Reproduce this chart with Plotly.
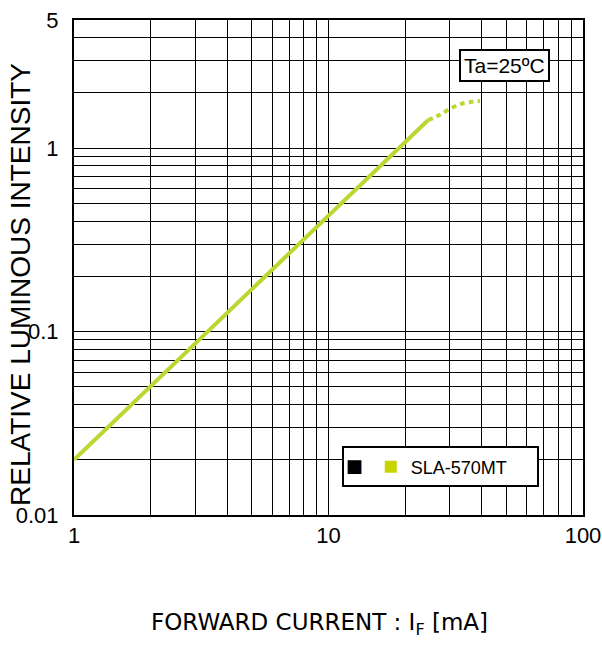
import plotly.graph_objects as go

# ---- data ----
current_solid = [1, 2, 5, 10, 20, 24.6]
intensity_solid = [0.02, 0.0503, 0.17, 0.428, 1.075, 1.42]
current_dotted = [24.6, 27.4, 30, 33.5, 39.4]
intensity_dotted = [1.42, 1.52, 1.64, 1.75, 1.81]

x_grid = [1, 2, 3, 4, 5, 6, 7, 8, 9, 10, 20, 30, 40, 50, 60, 70, 80, 90, 100]
x_labels = {1: "1", 10: "10", 100: "100"}
y_grid = [0.01, 0.02, 0.03, 0.04, 0.05, 0.06, 0.07, 0.08, 0.09,
          0.1, 0.2, 0.3, 0.4, 0.5, 0.6, 0.7, 0.8, 0.9,
          1, 2, 3, 4, 5]
y_labels = {0.01: "0.01", 0.1: "0.1", 1: "1", 5: "5"}

series_name = "SLA-570MT"
green = "#bdd631"

fig = go.Figure()
fig.add_trace(go.Scatter(x=current_solid, y=intensity_solid, mode="lines",
                         line=dict(color=green, width=4), showlegend=False))
fig.add_trace(go.Scatter(x=current_dotted, y=intensity_dotted, mode="lines",
                         line=dict(color=green, width=4, dash="5px,4px", shape="spline"),
                         showlegend=False))
# legend entry
fig.add_trace(go.Scatter(x=[None], y=[None], mode="markers", name=series_name,
                         marker=dict(symbol="square", size=12, color="#c8d400")))

axis_common = dict(showgrid=True, gridcolor="black", gridwidth=1,
                   showline=True, linecolor="black", linewidth=2, mirror=True,
                   ticks="", zeroline=False, automargin=False,
                   tickfont=dict(family="Liberation Sans, Arial", size=22, color="black"))

fig.update_xaxes(type="log", range=[0, 2], tickmode="array",
                 tickvals=x_grid, ticktext=[x_labels.get(v, "") for v in x_grid],
                 **axis_common)
fig.update_yaxes(type="log", range=[-2, 0.69897], tickmode="array",
                 tickvals=y_grid, ticktext=[y_labels.get(v, "") for v in y_grid],
                 ticklabelstandoff=9, **axis_common)

fig.add_annotation(text="RELATIVE LUMINOUS INTENSITY", xref="paper", yref="paper",
                   x=-0.105, y=0.466, textangle=-90, showarrow=False,
                   xanchor="center", yanchor="middle",
                   font=dict(family="Liberation Sans, Arial", size=28, color="black"))
fig.add_annotation(text="FORWARD CURRENT : I<sub>F</sub> [mA]", xref="paper", yref="paper",
                   x=0.483, y=-0.22, showarrow=False, xanchor="center", yanchor="middle",
                   font=dict(family="DejaVu Sans", size=23, color="black"))
fig.add_annotation(text="Ta=25ºC", xref="paper", yref="paper",
                   x=0.845, y=0.908, showarrow=False, xanchor="center", yanchor="middle",
                   bgcolor="white", bordercolor="black", borderwidth=2, borderpad=3,
                   font=dict(family="Liberation Sans, Arial", size=21, color="black"))

fig.update_layout(
    width=602, height=652,
    margin=dict(l=74, r=19, t=20, b=137),
    paper_bgcolor="white", plot_bgcolor="white",
    legend=dict(orientation="h", x=0.526, y=0.097, xanchor="left", yanchor="middle",
                bgcolor="white", bordercolor="black", borderwidth=2,
                entrywidth=120, entrywidthmode="pixels",
                title=dict(text="■", side="left",
                           font=dict(family="DejaVu Sans", size=18, color="black")),
                font=dict(family="Liberation Sans, Arial", size=18, color="black")),
)

fig.write_html("out.html", config={"displayModeBar": False},
               post_script="document.body.style.margin='0';")
